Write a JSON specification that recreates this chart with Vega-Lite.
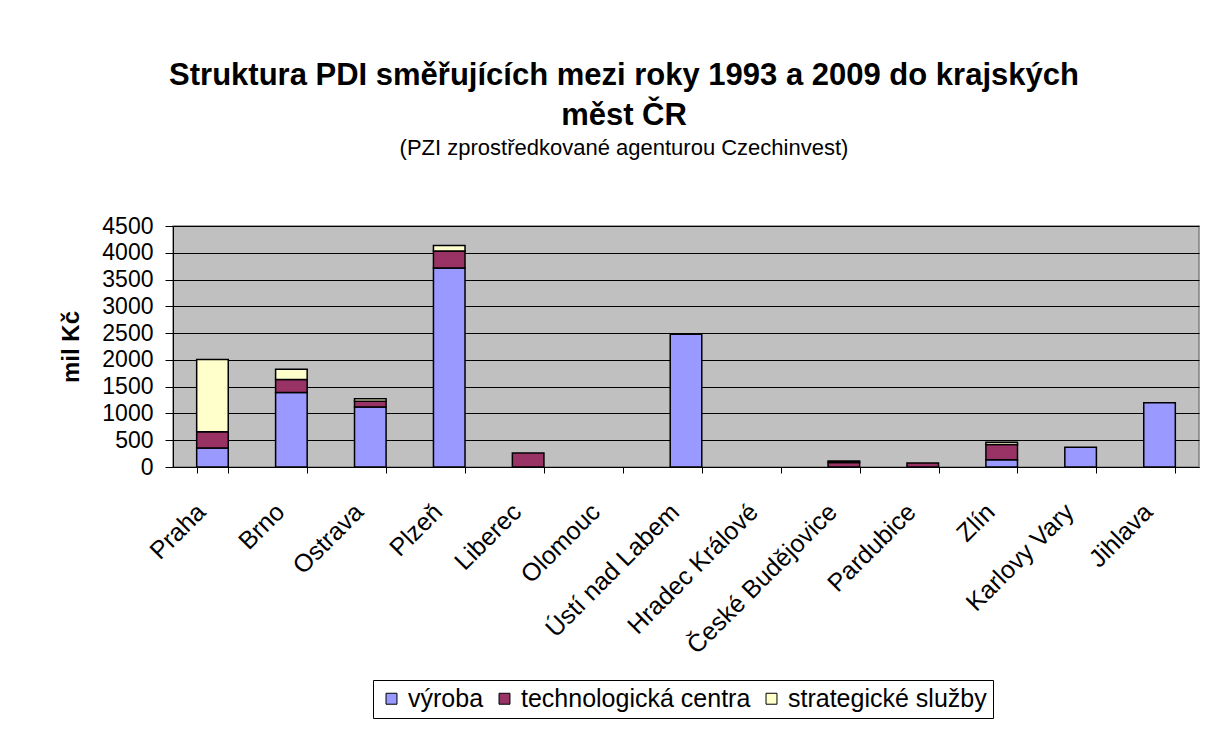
{
  "$schema": "https://vega.github.io/schema/vega-lite/v6.json",
  "autosize": {"type": "none"},
  "width": 1026,
  "height": 241,
  "padding": {"left": 173, "top": 226, "right": 33, "bottom": 280},
  "background": "white",
  "title": {
    "text": ["Struktura PDI směřujících mezi roky 1993 a 2009 do krajských", "měst ČR"],
    "subtitle": "(PZI zprostředkované agenturou Czechinvest)",
    "font": "Liberation Sans",
    "fontSize": 31,
    "fontWeight": "bold",
    "color": "black",
    "lineHeight": 40,
    "subtitleFont": "Liberation Sans",
    "subtitleFontSize": 22,
    "subtitleColor": "black",
    "subtitlePadding": 6,
    "anchor": "middle",
    "dx": -62,
    "offset": 55
  },
  "data": {
    "values": [
      {"mesto": "Praha", "typ": "výroba", "poradi": 1, "hodnota": 355},
      {"mesto": "Praha", "typ": "technologická centra", "poradi": 2, "hodnota": 305},
      {"mesto": "Praha", "typ": "strategické služby", "poradi": 3, "hodnota": 1345},
      {"mesto": "Brno", "typ": "výroba", "poradi": 1, "hodnota": 1390},
      {"mesto": "Brno", "typ": "technologická centra", "poradi": 2, "hodnota": 245},
      {"mesto": "Brno", "typ": "strategické služby", "poradi": 3, "hodnota": 190},
      {"mesto": "Ostrava", "typ": "výroba", "poradi": 1, "hodnota": 1120},
      {"mesto": "Ostrava", "typ": "technologická centra", "poradi": 2, "hodnota": 110},
      {"mesto": "Ostrava", "typ": "strategické služby", "poradi": 3, "hodnota": 45},
      {"mesto": "Plzeň", "typ": "výroba", "poradi": 1, "hodnota": 3715},
      {"mesto": "Plzeň", "typ": "technologická centra", "poradi": 2, "hodnota": 320},
      {"mesto": "Plzeň", "typ": "strategické služby", "poradi": 3, "hodnota": 100},
      {"mesto": "Liberec", "typ": "technologická centra", "poradi": 2, "hodnota": 260},
      {"mesto": "Ústí nad Labem", "typ": "výroba", "poradi": 1, "hodnota": 2480},
      {"mesto": "České Budějovice", "typ": "technologická centra", "poradi": 2, "hodnota": 85},
      {"mesto": "České Budějovice", "typ": "strategické služby", "poradi": 3, "hodnota": 25},
      {"mesto": "Pardubice", "typ": "technologická centra", "poradi": 2, "hodnota": 75},
      {"mesto": "Zlín", "typ": "výroba", "poradi": 1, "hodnota": 135},
      {"mesto": "Zlín", "typ": "technologická centra", "poradi": 2, "hodnota": 285},
      {"mesto": "Zlín", "typ": "strategické služby", "poradi": 3, "hodnota": 40},
      {"mesto": "Karlovy Vary", "typ": "výroba", "poradi": 1, "hodnota": 368},
      {"mesto": "Jihlava", "typ": "výroba", "poradi": 1, "hodnota": 1202}
    ]
  },
  "mark": {"type": "bar", "stroke": "black", "strokeWidth": 1.5},
  "encoding": {
    "x": {
      "field": "mesto",
      "type": "nominal",
      "scale": {
        "domain": ["Praha", "Brno", "Ostrava", "Plzeň", "Liberec", "Olomouc", "Ústí nad Labem", "Hradec Králové", "České Budějovice", "Pardubice", "Zlín", "Karlovy Vary", "Jihlava"],
        "paddingInner": 0.6,
        "paddingOuter": 0.3
      },
      "axis": {
        "title": null,
        "labelAngle": -45,
        "labelAlign": "right",
        "labelBaseline": "top",
        "labelFontSize": 25,
        "labelOffset": -20,
        "labelLimit": 0,
        "tickBand": "extent",
        "tickSize": 6,
        "labelPadding": 26,
        "grid": false
      }
    },
    "y": {
      "field": "hodnota",
      "type": "quantitative",
      "stack": "zero",
      "scale": {"domain": [0, 4500], "nice": false},
      "axis": {
        "title": "mil Kč",
        "format": "d",
        "values": [0, 500, 1000, 1500, 2000, 2500, 3000, 3500, 4000, 4500],
        "grid": true,
        "gridColor": "black",
        "gridOpacity": 1,
        "gridWidth": 1,
        "tickSize": 8,
        "labelPadding": 12,
        "labelFontSize": 23,
        "titleFontSize": 24,
        "titlePadding": 18,
        "titleFontWeight": "bold"
      }
    },
    "color": {
      "field": "typ",
      "type": "nominal",
      "scale": {
        "domain": ["výroba", "technologická centra", "strategické služby"],
        "range": ["#9999FF", "#993366", "#FFFFCC"]
      },
      "legend": {
        "title": null,
        "orient": "none",
        "direction": "horizontal",
        "legendX": 200,
        "legendY": 454,
        "strokeColor": "black",
        "fillColor": "white",
        "padding": 6,
        "symbolType": "square",
        "symbolSize": 120,
        "symbolStrokeColor": "black",
        "symbolStrokeWidth": 1,
        "symbolOpacity": 1,
        "labelFont": "Liberation Sans",
        "labelFontSize": 25,
        "labelColor": "black",
        "labelLimit": 0,
        "columnPadding": 8,
        "labelOffset": 4
      }
    },
    "order": {"field": "poradi", "type": "quantitative", "sort": "ascending"}
  },
  "config": {
    "font": "Liberation Sans",
    "axis": {
      "labelFont": "Liberation Sans",
      "labelColor": "black",
      "titleFont": "Liberation Sans",
      "titleColor": "black",
      "domainColor": "black",
      "tickColor": "black",
      "labelOverlap": false
    },
    "view": {"fill": "#C0C0C0", "stroke": "#808080", "strokeWidth": 1.5}
  }
}
